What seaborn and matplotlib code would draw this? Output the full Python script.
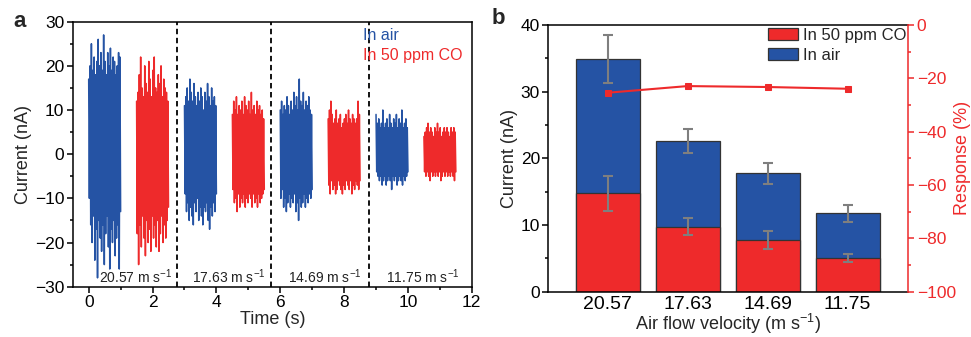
import numpy as np
import pandas as pd
import matplotlib
matplotlib.use("Agg")
import matplotlib.pyplot as plt
import seaborn as sns
from matplotlib.ticker import MultipleLocator
from matplotlib.patches import Patch

BLUE = "#2553a4"
RED = "#ee2a2b"

# ---- panel a: current bursts (peak envelopes) ----
burst_start = [0.0, 1.5, 3.0, 4.5, 6.0, 7.5, 9.0, 10.5]
burst_len = 1.0
burst_kind = ["air", "co", "air", "co", "air", "co", "air", "co"]

burst_up = [
    [17, 20, 25, 19, 22, 18, 21, 26, 20, 23, 19, 27, 21, 18, 23, 20, 24, 19, 22, 21, 18, 20, 23, 22],
    [12, 14, 18, 22, 15, 13, 20, 16, 14, 21, 17, 13, 19, 22, 15, 14, 18, 16, 20, 13, 17, 15, 14, 12],
    [11, 13, 15, 12, 17, 14, 12, 16, 13, 11, 14, 12, 15, 13, 10, 14, 12, 16, 13, 11, 15, 12, 13, 11],
    [9, 12, 10, 13, 9, 11, 10, 12, 9, 13, 11, 10, 12, 9, 14, 10, 11, 9, 12, 10, 11, 9, 10, 8],
    [10, 12, 9, 11, 10, 13, 11, 9, 12, 10, 14, 11, 13, 10, 17, 12, 11, 14, 10, 12, 11, 13, 10, 9],
    [8, 10, 12, 9, 7, 8, 10, 7, 8, 9, 6, 7, 8, 9, 7, 10, 8, 7, 9, 8, 7, 8, 12, 9],
    [9, 7, 8, 6, 7, 10, 6, 7, 8, 6, 9, 7, 6, 8, 7, 9, 6, 8, 7, 10, 6, 7, 8, 6],
    [4, 5, 6, 7, 5, 6, 5, 4, 6, 5, 7, 5, 6, 4, 5, 6, 5, 6, 5, 4, 6, 5, 6, 5],
]
burst_lo = [
    [-10, -16, -20, -14, -24, -17, -28, -15, -19, -22, -16, -25, -18, -14, -21, -26, -17, -20, -15, -23, -19, -16, -26, -13],
    [-18, -25, -16, -21, -14, -19, -23, -15, -20, -17, -22, -14, -19, -16, -21, -15, -22, -18, -14, -20, -16, -19, -15, -12],
    [-9, -13, -11, -15, -12, -14, -16, -11, -13, -10, -15, -12, -14, -16, -12, -13, -11, -15, -17, -12, -14, -11, -13, -9],
    [-8, -11, -10, -13, -9, -12, -10, -11, -9, -12, -10, -11, -9, -10, -12, -9, -11, -10, -12, -9, -11, -10, -9, -8],
    [-10, -8, -12, -10, -13, -11, -9, -12, -10, -11, -9, -13, -11, -15, -10, -12, -11, -9, -12, -10, -11, -9, -10, -8],
    [-7, -9, -6, -8, -7, -9, -8, -6, -7, -8, -9, -7, -8, -6, -7, -8, -6, -9, -7, -8, -6, -7, -8, -6],
    [-4, -5, -6, -5, -7, -6, -5, -7, -6, -5, -6, -8, -5, -6, -5, -7, -6, -5, -6, -7, -5, -6, -5, -4],
    [-4, -5, -4, -5, -6, -4, -5, -4, -5, -4, -5, -4, -6, -5, -4, -5, -4, -5, -4, -5, -4, -5, -6, -4],
]
divider_t = [2.77, 5.72, 8.77]
speed_labels = [r"20.57 m s$^{-1}$", r"17.63 m s$^{-1}$", r"14.69 m s$^{-1}$", r"11.75 m s$^{-1}$"]
speed_label_t = [1.48, 4.40, 7.39, 10.45]

# ---- panel b: bars + response ----
velocity = ["20.57", "17.63", "14.69", "11.75"]
current_air = [34.85, 22.6, 17.75, 11.75]
current_air_err = [3.6, 1.8, 1.6, 1.25]
current_co = [14.75, 9.75, 7.75, 5.0]
current_co_err = [2.6, 1.3, 1.4, 0.6]
response = [-25.4, -22.9, -23.25, -23.9]

sns.set_theme(style="ticks")
plt.rcParams["font.family"] = ["Liberation Sans", "DejaVu Sans"]
plt.rcParams["mathtext.fontset"] = "custom"
plt.rcParams["mathtext.rm"] = "Liberation Sans"
plt.rcParams["mathtext.it"] = "Liberation Sans:italic"
plt.rcParams["axes.linewidth"] = 1.1
plt.rcParams["axes.edgecolor"] = "black"
plt.rcParams["xtick.color"] = "black"
plt.rcParams["ytick.color"] = "black"

fig = plt.figure(figsize=(9.71, 3.37), dpi=100)
ax = fig.add_axes([0.0749, 0.1493, 0.411, 0.7864])
axb = fig.add_axes([0.5647, 0.1344, 0.3708, 0.7914])

for start, kind, up, lo in zip(burst_start, burst_kind, burst_up, burst_lo):
    vals = np.empty(2 * len(up))
    vals[0::2] = up
    vals[1::2] = lo
    t = np.linspace(start, start + burst_len, len(vals))
    sns.lineplot(x=t, y=vals, sort=False, estimator=None, ax=ax,
                 color=BLUE if kind == "air" else RED, lw=1.1)

for xd in divider_t:
    ax.axvline(xd, color="black", ls=(0, (3, 2)), lw=1.3)
for lab, xt in zip(speed_labels, speed_label_t):
    ax.text(xt, -27.7, lab, ha="center", va="center", fontsize=10, color="#222222")
ax.text(8.6, 26.8, "In air", color=BLUE, fontsize=11.5, va="center")
ax.text(8.6, 22.3, "In 50 ppm CO", color=RED, fontsize=11.5, va="center")

ax.set_xlim(-0.5, 12)
ax.set_ylim(-30, 30)
ax.xaxis.set_major_locator(MultipleLocator(2))
ax.xaxis.set_minor_locator(MultipleLocator(1))
ax.yaxis.set_major_locator(MultipleLocator(10))
ax.yaxis.set_minor_locator(MultipleLocator(5))
ax.tick_params(which="major", length=4, width=1.1, labelsize=12.5, pad=2)
ax.tick_params(which="minor", length=2.5, width=1.1)
ax.set_xlabel("Time (s)", fontsize=13, labelpad=1)
ax.set_ylabel("Current (nA)", fontsize=13, labelpad=2)
for s in ax.spines.values():
    s.set_visible(True)

# panel b
pos = np.arange(len(velocity))
sns.barplot(x=velocity, y=current_air, color=BLUE, saturation=1, width=0.8,
            edgecolor="#333333", linewidth=0.9, ax=axb, errorbar=None)
sns.barplot(x=velocity, y=current_co, color=RED, saturation=1, width=0.8,
            edgecolor="#333333", linewidth=0.9, ax=axb, errorbar=None)
axb.errorbar(pos, current_air, yerr=current_air_err, fmt="none", ecolor="#7f7f7f",
             elinewidth=1.5, capsize=3.5, capthick=1.5, zorder=5)
axb.errorbar(pos, current_co, yerr=current_co_err, fmt="none", ecolor="#7f7f7f",
             elinewidth=1.5, capsize=3.5, capthick=1.5, zorder=5)
axb.set_xlim(-0.74, 3.76)
axb.set_ylim(0, 40)
axb.yaxis.set_major_locator(MultipleLocator(10))
axb.yaxis.set_minor_locator(MultipleLocator(5))
axb.tick_params(axis="y", which="major", length=4, width=1.1, labelsize=12.5, pad=2)
axb.tick_params(axis="y", which="minor", length=2.5, width=1.1)
axb.tick_params(axis="x", length=0, labelsize=14, pad=3)
axb.set_xlabel(r"Air flow velocity (m s$^{-1}$)", fontsize=13, labelpad=-1)
axb.set_ylabel("Current (nA)", fontsize=13, labelpad=2)
axb.spines["right"].set_visible(False)
axb.spines["top"].set_visible(True)

axr = axb.twinx()
sns.lineplot(x=pos, y=response, ax=axr, color=RED, marker="s", markersize=5,
             markeredgecolor=RED, lw=1.5)
axr.set_ylim(-100, 0)
axr.yaxis.set_major_locator(MultipleLocator(20))
axr.yaxis.set_minor_locator(MultipleLocator(10))
axr.tick_params(axis="y", which="major", length=4, width=1.1, colors=RED, labelsize=12.5, pad=2)
axr.tick_params(axis="y", which="minor", length=2.5, width=1.1, colors=RED)
axr.spines["right"].set_color(RED)
axr.spines["right"].set_linewidth(1.1)
for side in ["left", "top", "bottom"]:
    axr.spines[side].set_visible(False)
axr.set_ylabel("Response (%)", fontsize=13, color=RED, labelpad=-1)

handles = [Patch(facecolor=RED, edgecolor="#333333", lw=0.9),
           Patch(facecolor=BLUE, edgecolor="#333333", lw=0.9)]
axb.legend(handles, ["In 50 ppm CO", "In air"], loc="upper left",
           bbox_to_anchor=(0.61, 0.99), frameon=False, fontsize=12,
           handlelength=1.8, handleheight=0.7, handletextpad=0.3,
           borderpad=0, borderaxespad=0, labelspacing=0.3)

fig.text(0.014, 0.935, "a", fontsize=16, fontweight="bold", va="center")
fig.text(0.506, 0.945, "b", fontsize=16, fontweight="bold", va="center")

fig.savefig("out.png", dpi=100)
